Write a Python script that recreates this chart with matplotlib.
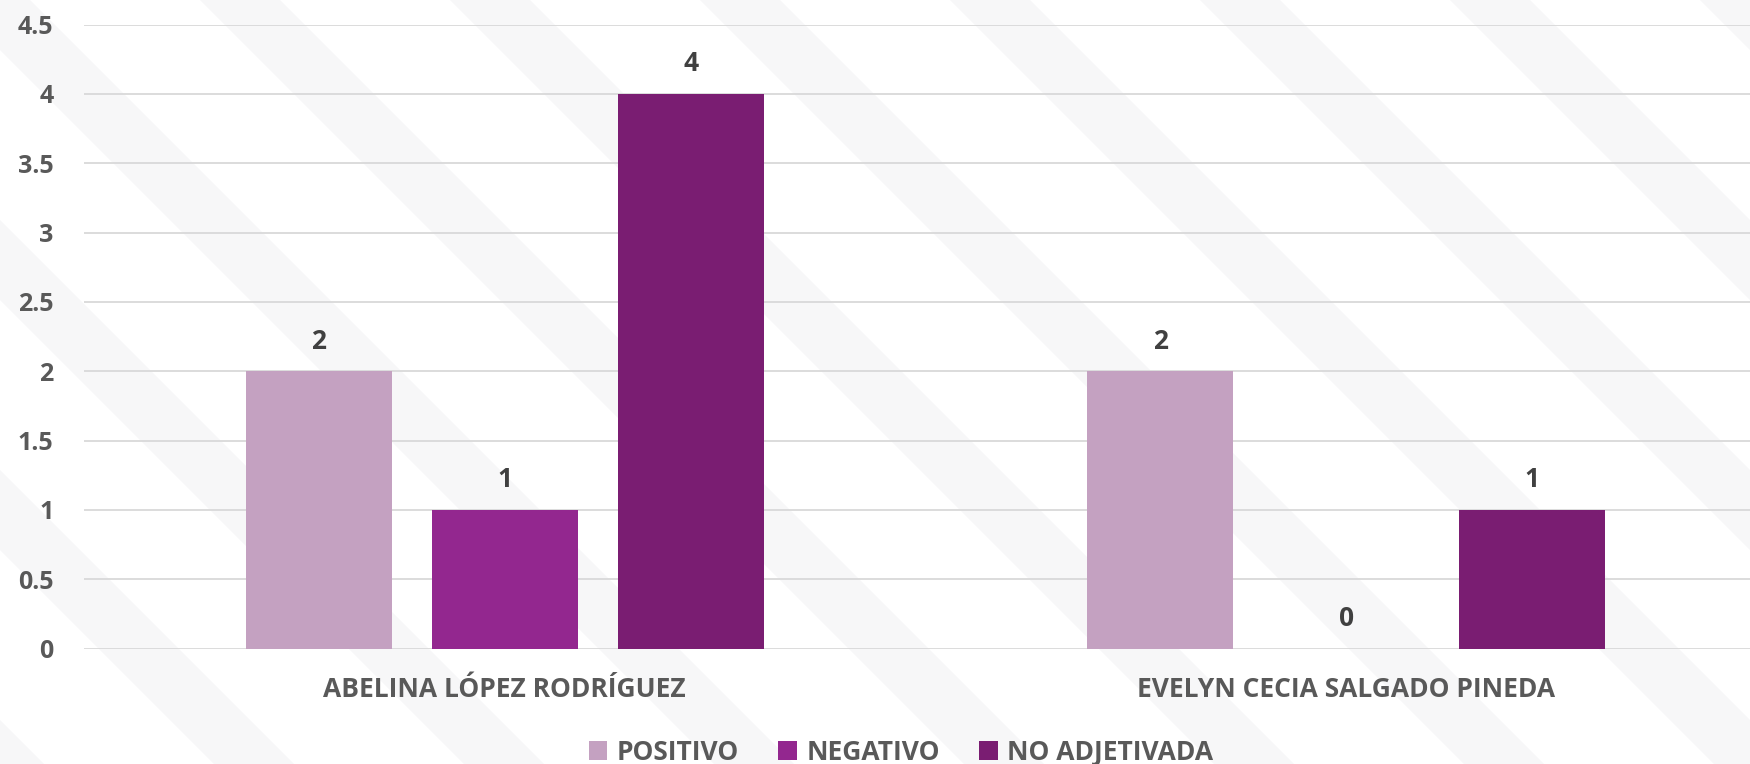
import matplotlib
matplotlib.use("Agg")
import matplotlib.pyplot as plt
import numpy as np
from matplotlib.patches import Polygon

# ---- data ----
categories = ["ABELINA LÓPEZ RODRÍGUEZ", "EVELYN CECIA SALGADO PINEDA"]
series_names = ["POSITIVO", "NEGATIVO", "NO ADJETIVADA"]
positivo = [2, 2]
negativo = [1, 0]
no_adjetivada = [4, 1]
y_ticks = [0, 0.5, 1, 1.5, 2, 2.5, 3, 3.5, 4, 4.5]
y_tick_labels = ["0", "0.5", "1", "1.5", "2", "2.5", "3", "3.5", "4", "4.5"]

colors = ["#C4A1C1", "#93278F", "#7A1D72"]
FONT = ["Open Sans", "DejaVu Sans"]
plt.rcParams["font.family"] = FONT

W, H = 1750, 764
fig = plt.figure(figsize=(W / 100, H / 100), dpi=100)
fig.patch.set_facecolor("white")

# faint background stripe decoration
bg = fig.add_axes([0, 0, 1, 1], zorder=-10)
bg.set_xlim(0, W)
bg.set_ylim(H, 0)
bg.axis("off")
stripe_col = "#F7F7F8"
bw = 80
for x0 in range(-800, 1900, 250):
    poly = Polygon([(x0, 0), (x0 + bw, 0), (x0 + bw + H, H), (x0 + H, H)],
                   closed=True, facecolor=stripe_col, edgecolor="none")
    bg.add_patch(poly)

left = 84 / W
bottom = (H - 648.5) / H
top = 1 - 24.6 / H
right = 1767 / W
ax = fig.add_axes([left, bottom, right - left, top - bottom])
ax.patch.set_alpha(0)

x = np.arange(len(categories))
off = 0.221
width = 0.174
series = [positivo, negativo, no_adjetivada]
for i, (name, vals) in enumerate(zip(series_names, series)):
    xs = x + (i - 1) * off
    ax.bar(xs, vals, width=width, color=colors[i], label=name, zorder=3)
    for xi, v in zip(xs, vals):
        ax.annotate(str(v), (xi, v), xytext=(0, 12), textcoords="offset points",
                    ha="center", va="bottom", fontsize=19, fontweight="bold",
                    color="#404040", zorder=4)

ax.set_xlim(-0.5, 1.5)
ax.set_ylim(0, 4.5)
ax.set_yticks(y_ticks)
ax.set_yticklabels(y_tick_labels)
ax.set_xticks(x)
ax.set_xticklabels(categories)
ax.tick_params(axis="y", length=0, pad=22, labelsize=18, labelcolor="#595959")
ax.tick_params(axis="x", length=0, pad=20, labelsize=19, labelcolor="#595959")
for lab in ax.get_yticklabels():
    lab.set_fontweight("bold")
for lab in ax.get_xticklabels():
    lab.set_fontweight("bold")
ax.yaxis.grid(True, color="#D9D9D9", linewidth=1.3, zorder=0)
ax.set_axisbelow(True)
for s in ax.spines.values():
    s.set_visible(False)

handles, labels = ax.get_legend_handles_labels()
leg = fig.legend(handles, labels, loc="center", bbox_to_anchor=(901 / W, 1 - 752 / H),
                 ncol=3, frameon=False, handlelength=0.7, handleheight=0.7,
                 handletextpad=0.35, columnspacing=1.5,
                 prop={"weight": "bold", "size": 19, "family": FONT})
for t in leg.get_texts():
    t.set_color("#595959")

fig.savefig("out.png", dpi=100, facecolor="white")
